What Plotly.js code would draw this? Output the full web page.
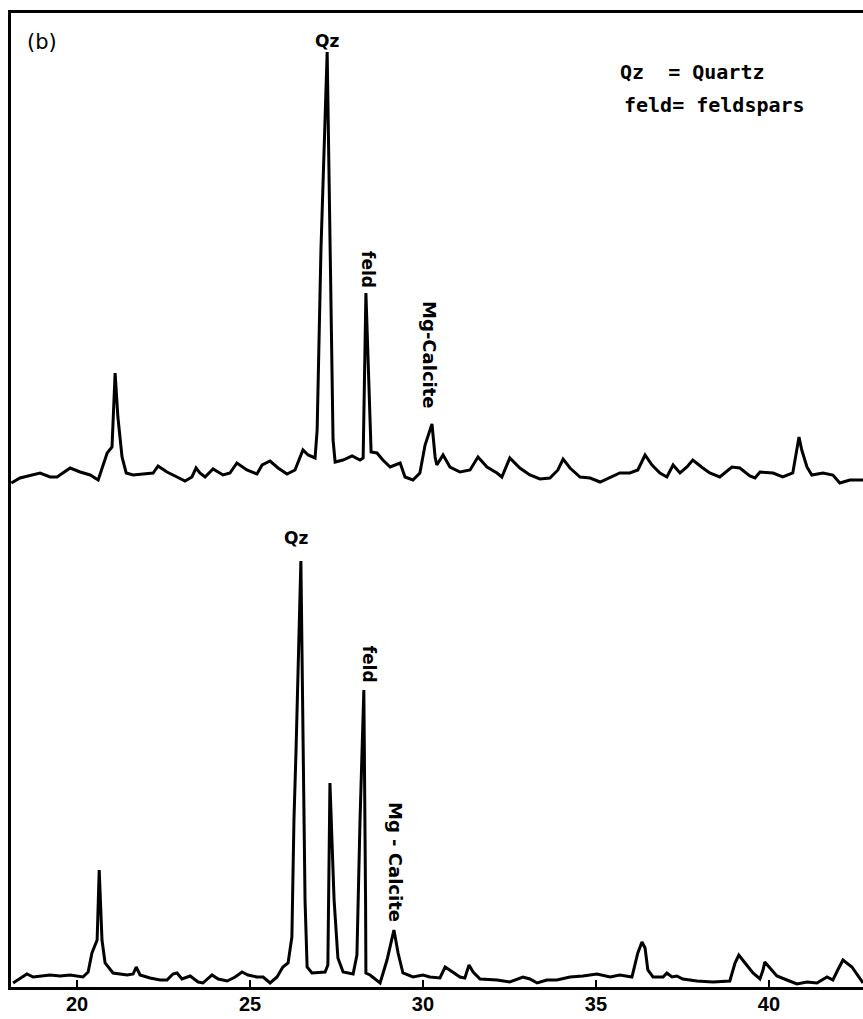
<!DOCTYPE html>
<html>
<head>
<meta charset="utf-8">
<script src="https://cdn.plot.ly/plotly-3.0.1.min.js"></script>
<style>html,body{margin:0;padding:0;background:#fff;}#chart{width:863px;height:1019px;}</style>
</head>
<body>
<div id="chart"></div>
<script>
// 2-theta (degrees) and intensity (arbitrary units) for the upper pattern
const topTheta = [18.10,18.35,18.93,19.22,19.42,19.80,20.09,20.38,20.61,20.87,21.01,21.10,21.18,21.30,21.42,21.62,21.91,22.20,22.34,22.60,22.89,23.12,23.32,23.44,23.55,23.70,23.93,24.22,24.42,24.62,24.91,25.20,25.35,25.58,25.81,26.07,26.30,26.53,26.68,26.88,26.94,27.05,27.23,27.31,27.40,27.46,27.69,27.95,28.18,28.27,28.35,28.50,28.67,28.84,29.05,29.34,29.48,29.71,29.91,30.06,30.26,30.35,30.40,30.58,30.78,31.07,31.36,31.59,31.85,32.14,32.28,32.51,32.80,33.09,33.38,33.67,33.90,34.05,34.25,34.54,34.83,35.12,35.41,35.69,35.98,36.21,36.42,36.62,36.85,37.05,37.23,37.43,37.63,37.80,38.09,38.29,38.58,38.93,39.16,39.45,39.60,39.74,40.12,40.40,40.69,40.81,40.87,40.95,41.10,41.24,41.56,41.85,42.05,42.34,42.72];
const topIntensity = [4,9,14,10,10,19,15,12,7,34,40,114,70,30,14,12,13,14,21,15,10,6,10,19,14,10,18,12,14,24,17,13,22,26,19,13,17,37,32,29,57,237,435,247,47,25,27,31,27,29,194,35,34,27,20,24,10,7,14,42,63,30,22,32,20,15,17,30,20,14,10,29,19,12,8,9,17,28,19,10,9,5,10,14,14,17,32,22,14,10,22,14,20,27,19,14,10,20,19,11,9,15,14,10,14,37,50,37,20,12,14,12,4,7,7];

// 2-theta (degrees) and intensity (arbitrary units) for the lower pattern
const botTheta = [18.15,18.29,18.55,18.73,19.02,19.22,19.51,19.80,20.17,20.32,20.43,20.58,20.64,20.72,20.81,21.04,21.45,21.62,21.71,21.82,22.11,22.40,22.60,22.77,22.89,23.03,23.27,23.50,23.64,23.90,24.08,24.34,24.57,24.77,24.94,25.20,25.38,25.58,25.78,25.95,26.10,26.21,26.27,26.33,26.47,26.53,26.59,26.65,26.79,27.17,27.25,27.31,27.43,27.54,27.69,27.98,28.09,28.18,28.29,28.34,28.35,28.47,28.76,28.96,29.10,29.16,29.28,29.42,29.71,30.00,30.20,30.49,30.64,30.87,31.07,31.21,31.33,31.45,31.65,32.14,32.51,32.89,33.09,33.30,33.58,33.87,34.25,34.62,35.03,35.41,35.69,36.04,36.13,36.21,36.33,36.42,36.50,36.65,36.94,37.05,37.20,37.34,37.51,37.92,38.38,38.87,39.02,39.13,39.31,39.54,39.74,39.83,39.88,40.03,40.23,40.52,40.81,41.10,41.39,41.68,41.85,41.99,42.14,42.40,42.63,42.72];
const botIntensity = [4,7,13,10,11,12,11,12,10,15,34,47,117,47,24,14,12,13,20,12,9,7,7,13,14,8,11,5,4,12,8,6,10,15,12,10,10,4,10,20,24,50,167,237,426,237,87,20,14,15,22,204,87,29,15,13,32,167,297,87,14,12,4,27,47,57,34,14,10,12,10,9,20,15,10,9,22,15,8,7,5,10,8,4,7,7,10,11,13,10,12,10,24,34,45,39,17,10,10,14,10,11,8,6,5,6,24,32,24,14,8,17,25,19,11,7,3,5,4,10,7,17,27,20,9,4];

const tickValues = [20,25,30,35,40];
const tickLabels = ['20','25','30','35','40'];

// peak labels: [text, theta, intensity, axis, rotated]
const peakLabels = [
  ['Qz', 27.23, 446, 'y2', false],
  ['feld', 28.41, 217, 'y2', true],
  ['Mg-Calcite', 30.20, 132, 'y2', true],
  ['Qz', 26.33, 449, 'y', false],
  ['feld', 28.45, 323, 'y', true],
  ['Mg - Calcite', 29.22, 125, 'y', true]
];
const keyLines = ['Qz\u00a0\u00a0= Quartz', 'feld= feldspars'];

const lineStyle = {color: '#000', width: 3};
const traces = [
  {x: botTheta, y: botIntensity, type: 'scatter', mode: 'lines', line: lineStyle, xaxis: 'x', yaxis: 'y', hoverinfo: 'skip'},
  {x: topTheta, y: topIntensity, type: 'scatter', mode: 'lines', line: lineStyle, xaxis: 'x', yaxis: 'y2', hoverinfo: 'skip'}
];

const labelFont = {family: 'DejaVu Sans, sans-serif', size: 17, color: '#000', weight: 'bold'};
const annotations = peakLabels.map(p => ({
  text: p[0], x: p[1], y: p[2], xref: 'x', yref: p[3],
  showarrow: false, textangle: p[4] ? 90 : 0,
  xanchor: 'center', yanchor: 'middle',
  font: Object.assign({}, labelFont, {size: p[0].length > 4 ? 18 : 17})
}));
annotations.push({text: keyLines[0], xref: 'paper', yref: 'paper', x: 0.7124, y: 0.9394, xanchor: 'left', yanchor: 'middle', showarrow: false, font: {family: 'DejaVu Sans Mono, monospace', size: 20, color: '#000', weight: 'bold'}});
annotations.push({text: keyLines[1], xref: 'paper', yref: 'paper', x: 0.7171, y: 0.9055, xanchor: 'left', yanchor: 'middle', showarrow: false, font: {family: 'DejaVu Sans Mono, monospace', size: 20, color: '#000', weight: 'bold'}});
annotations.push({text: '(b)', xref: 'paper', yref: 'paper', x: 0.0164, y: 0.970, xanchor: 'left', yanchor: 'middle', showarrow: false, font: {family: 'DejaVu Sans, sans-serif', size: 21, color: '#000'}});

const layout = {
  width: 863, height: 1019,
  margin: {l: 11, r: 0, t: 13, b: 32, pad: 0},
  paper_bgcolor: '#fff', plot_bgcolor: '#fff',
  showlegend: false,
  xaxis: {
    range: [18.09, 42.72], showgrid: false, zeroline: false,
    showline: true, mirror: true, linecolor: '#000', linewidth: 3,
    ticks: 'inside', ticklen: 7, tickwidth: 2, tickcolor: '#000',
    tickvals: tickValues, ticktext: tickLabels, ticklabelstandoff: -3,
    tickfont: {family: 'Liberation Sans, Arial, sans-serif', size: 20, color: '#000', weight: 'bold'}
  },
  yaxis: {
    range: [0, 974], domain: [0, 1], showgrid: false, zeroline: false,
    showline: true, linecolor: '#000', linewidth: 3, showticklabels: false, ticks: ''
  },
  yaxis2: {
    range: [-500, 474], overlaying: 'y', visible: false, showgrid: false, zeroline: false
  },
  annotations: annotations
};

Plotly.newPlot('chart', traces, layout, {staticPlot: true, displayModeBar: false});
</script>
</body>
</html>
